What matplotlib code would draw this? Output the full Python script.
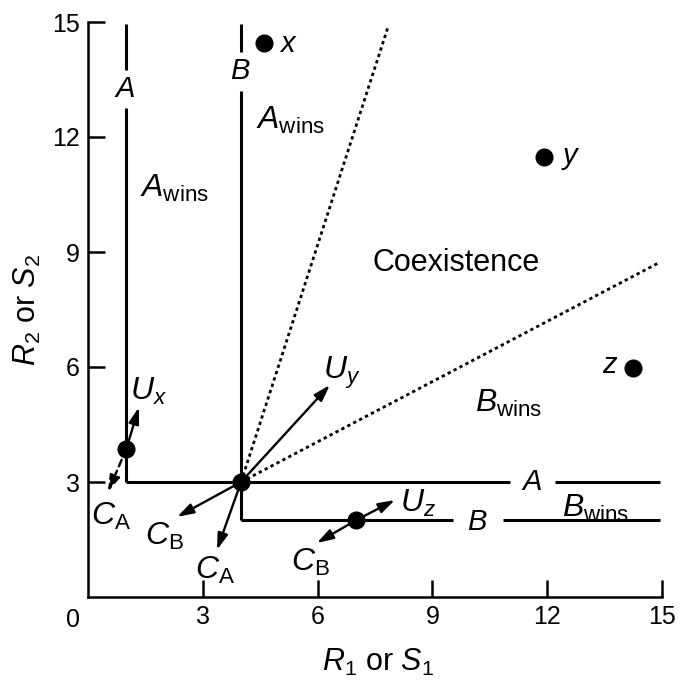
import matplotlib.pyplot as plt

plt.rcParams['font.family'] = ['Liberation Sans', 'DejaVu Sans']
plt.rcParams['mathtext.fontset'] = 'custom'
plt.rcParams['mathtext.rm'] = 'Liberation Sans'
plt.rcParams['mathtext.it'] = 'Liberation Sans:italic'

# ZNGI corners (R1*, R2*) of species A and B
corner_a = (1.0, 3.0)
corner_b = (4.0, 2.0)
r_end = 14.95

# gaps in each isocline where its letter sits
gap_a_vert = (12.76, 13.75)
gap_a_horz = (11.03, 12.2)
gap_b_vert = (13.2, 14.22)
gap_b_horz = (9.54, 10.84)

# equilibrium points
eq_r1 = [1.0, 4.0, 7.0]
eq_r2 = [3.86, 3.0, 2.0]

# supply points
supply_names = ['x', 'y', 'z']
supply_r1 = [4.6, 11.92, 14.24]
supply_r2 = [14.45, 11.48, 5.97]

# boundaries of the coexistence region, drawn from the two-species point
bound_ends = [(7.84, 14.87), (14.9, 8.71)]

# supply (U) and consumption (C) vectors: start, tip, dashed
vec_start = [(1.0, 3.86), (1.0, 3.86), (4.0, 3.0), (4.0, 3.0), (4.0, 3.0), (7.0, 2.0), (7.0, 2.0)]
vec_tip = [(1.33, 4.95), (0.52, 2.74), (6.32, 5.53), (2.33, 2.09), (3.37, 1.23), (8.02, 2.53), (5.98, 1.41)]
vec_dashed = [False, True, False, False, False, False, False]

fig = plt.figure(figsize=(6.83, 6.85), dpi=100)
ax = fig.add_axes([88 / 683, 88 / 685, 574 / 683, 575 / 685])
ax.set_xlim(0, 15)
ax.set_ylim(0, 15)

lw = 2.2
k = dict(color='black', lw=lw, solid_capstyle='butt')

# species A isocline
ax.plot([corner_a[0]] * 2, [corner_a[1], gap_a_vert[0]], **k)
ax.plot([corner_a[0]] * 2, [gap_a_vert[1], r_end], **k)
ax.plot([corner_a[0], gap_a_horz[0]], [corner_a[1]] * 2, **k)
ax.plot([gap_a_horz[1], r_end], [corner_a[1]] * 2, **k)
# species B isocline
ax.plot([corner_b[0]] * 2, [corner_b[1], gap_b_vert[0]], **k)
ax.plot([corner_b[0]] * 2, [gap_b_vert[1], r_end], **k)
ax.plot([corner_b[0], gap_b_horz[0]], [corner_b[1]] * 2, **k)
ax.plot([gap_b_horz[1], r_end], [corner_b[1]] * 2, **k)

# dotted boundaries
for bx, by in bound_ends:
    ax.plot([eq_r1[1], bx], [eq_r2[1], by], color='black', lw=2, linestyle=(0, (1.2, 1.2)))

# vectors
for s, t, d in zip(vec_start, vec_tip, vec_dashed):
    ax.annotate('', xy=t, xytext=s,
                arrowprops=dict(arrowstyle='-|>,head_length=0.7,head_width=0.22',
                                lw=1.7, color='black', shrinkA=0, shrinkB=0,
                                linestyle=(0, (3, 2)) if d else '-', mutation_scale=14))

ax.plot(eq_r1, eq_r2, 'o', color='black', ms=12, zorder=5)
ax.plot(supply_r1, supply_r2, 'o', color='black', ms=12, zorder=5)

# labels
fs_l = 21
ax.text(5.2, 14.42, supply_names[0], fontsize=fs_l, style='italic', ha='center', va='center')
ax.text(12.6, 11.5, supply_names[1], fontsize=fs_l, style='italic', ha='center', va='center')
ax.text(13.64, 6.05, supply_names[2], fontsize=fs_l, style='italic', ha='center', va='center')

ax.text(0.97, 13.25, 'A', fontsize=fs_l, style='italic', ha='center', va='center')
ax.text(3.97, 13.72, 'B', fontsize=fs_l, style='italic', ha='center', va='center')
ax.text(11.6, 3.0, 'A', fontsize=fs_l, style='italic', ha='center', va='center')
ax.text(10.16, 1.95, 'B', fontsize=fs_l, style='italic', ha='center', va='center')

fs_v = 23
wins_a = r'$\mathit{A}_{\mathrm{wins}}$'
wins_b = r'$\mathit{B}_{\mathrm{wins}}$'
ax.text(2.25, 10.67, wins_a, fontsize=fs_v, ha='center', va='center')
ax.text(5.3, 12.44, wins_a, fontsize=fs_v, ha='center', va='center')
ax.text(11.0, 5.04, wins_b, fontsize=fs_v, ha='center', va='center')
ax.text(13.27, 2.32, wins_b, fontsize=fs_v, ha='center', va='center')
ax.text(9.62, 8.71, 'Coexistence', fontsize=22, ha='center', va='center')

ax.text(1.59, 5.35, r'$\mathit{U}_{\mathit{x}}$', fontsize=fs_v, ha='center', va='center')
ax.text(6.64, 5.84, r'$\mathit{U}_{\mathit{y}}$', fontsize=fs_v, ha='center', va='center')
ax.text(8.62, 2.45, r'$\mathit{U}_{\mathit{z}}$', fontsize=fs_v, ha='center', va='center')
ax.text(0.6, 2.1, r'$\mathit{C}_{\mathrm{A}}$', fontsize=fs_v, ha='center', va='center')
ax.text(2.01, 1.57, r'$\mathit{C}_{\mathrm{B}}$', fontsize=fs_v, ha='center', va='center')
ax.text(3.32, 0.7, r'$\mathit{C}_{\mathrm{A}}$', fontsize=fs_v, ha='center', va='center')
ax.text(5.8, 0.91, r'$\mathit{C}_{\mathrm{B}}$', fontsize=fs_v, ha='center', va='center')

# axes styling
for side in ['top', 'right']:
    ax.spines[side].set_visible(False)
for side in ['left', 'bottom']:
    ax.spines[side].set_linewidth(1.8)
ax.set_xticks([3, 6, 9, 12, 15])
ax.set_yticks([3, 6, 9, 12, 15])
ax.tick_params(direction='in', length=12, width=1.8, pad=6, labelsize=18)
ax.text(-0.39, -0.6, '0', fontsize=18, ha='center', va='center', clip_on=False)

fig.text(378 / 683, 1 - 662 / 685, r'$\mathit{R}_1$ or $\mathit{S}_1$', fontsize=22,
         ha='center', va='center')
fig.text(27 / 683, 1 - 310 / 685, r'$\mathit{R}_2$ or $\mathit{S}_2$', fontsize=22,
         ha='center', va='center', rotation=90)

fig.savefig('out.png', dpi=100)
